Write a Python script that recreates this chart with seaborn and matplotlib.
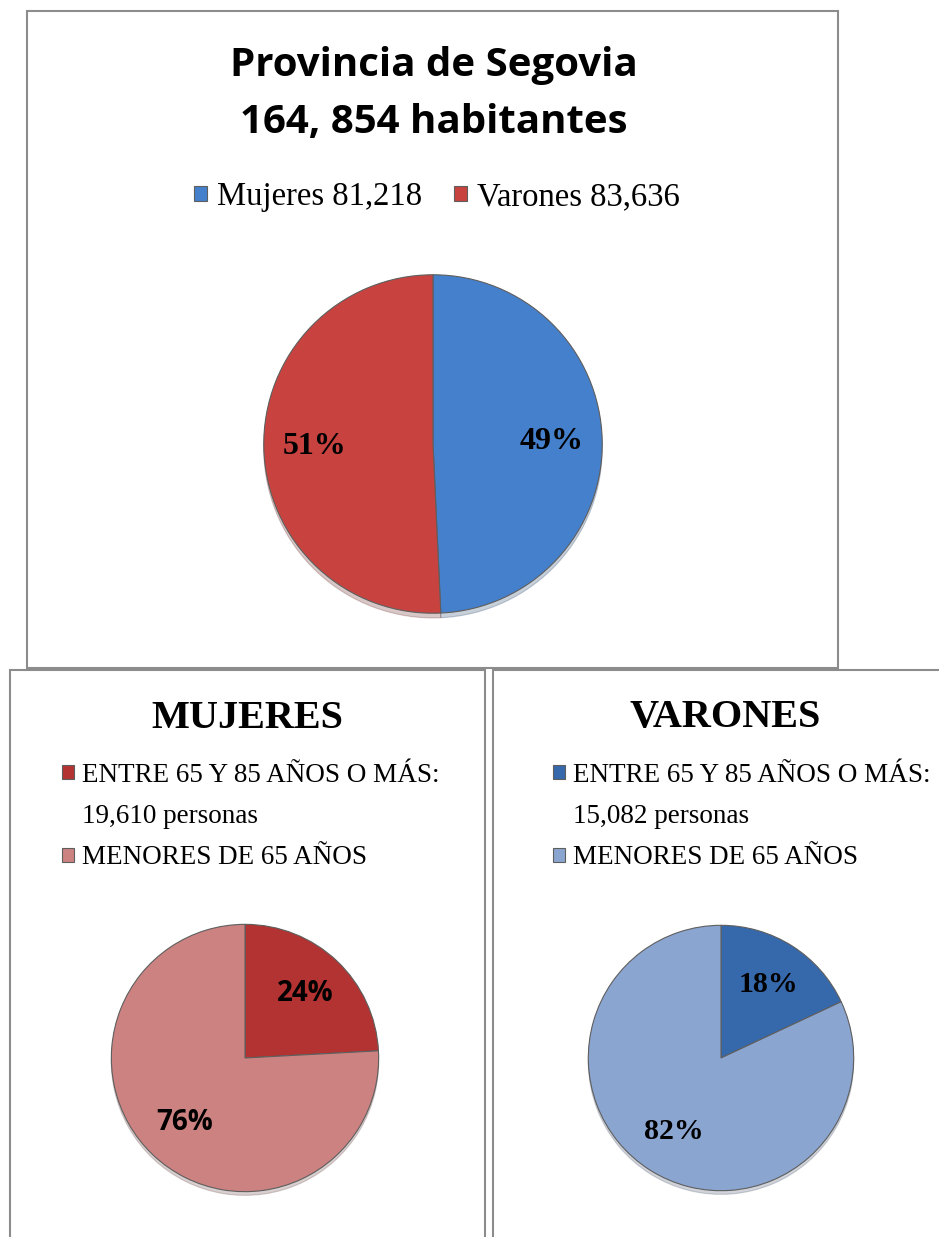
import matplotlib
matplotlib.use('Agg')
import matplotlib.pyplot as plt
from matplotlib.patches import Rectangle, Patch
import seaborn as sns

# datos
sexos = ['Mujeres', 'Varones']
habitantes = [81218, 83636]
colores_sexo = ['#4580cc', '#c8433f']

grupos = ['ENTRE 65 Y 85 AÑOS O MÁS:', 'MENORES DE 65 AÑOS']
mayores_65 = [19610, 15082]
colores_mujeres = ['#b23331', '#cc8280']
colores_varones = ['#3668ac', '#8ba5d1']

titulo = 'Provincia de Segovia\n164, 854 habitantes'
titulos_sexo = ['MUJERES', 'VARONES']

sns.set_theme(style='white')
plt.rcParams['font.family'] = ['Liberation Serif', 'DejaVu Sans']
plt.rcParams['text.color'] = 'black'

W, H = 939, 1237
fig = plt.figure(figsize=(W / 100, H / 100), dpi=100)


def fx(x):
    return x / W


def fy(y):
    return 1 - y / H


def caja(x0, y0, x1, y1):
    fig.add_artist(Rectangle((fx(x0), fy(y1)), (x1 - x0) / W, (y1 - y0) / H,
                             transform=fig.transFigure, fill=False,
                             edgecolor='#8c8c8c', linewidth=1.5))


def tarta(cx, cy, r, valores, colores, familia, tam, dist):
    ax = fig.add_axes([fx(cx - r), fy(cy + r), 2 * r / W, 2 * r / H])
    wedges, _, _ = ax.pie(valores, colors=colores, startangle=90, counterclock=False,
                          autopct='%1.0f%%', pctdistance=dist,
                          shadow=dict(ox=0, oy=-0.02, shade=0.5, alpha=0.25),
                          wedgeprops=dict(edgecolor='#5e5e5e', linewidth=0.8),
                          textprops=dict(fontsize=tam, fontweight='bold',
                                         family=familia, color='black'))
    ax.set_xlim(-1.04, 1.04)
    ax.set_ylim(-1.04, 1.04)
    ax.set_axis_off()
    return wedges


# marcos
caja(27, 11, 838, 668)
caja(10, 670, 485, 1250)
caja(493, 670, 950, 1250)

# panel superior
fig.text(fx(434), fy(94), titulo, ha='center', va='center', fontsize=29,
         fontweight='bold', family='Open Sans', linespacing=1.6)
w_top = tarta(433, 444, 176, habitantes, colores_sexo, 'Liberation Serif', 23, 0.7)
fig.legend(w_top, [f'{s} {v:,}' for s, v in zip(sexos, habitantes)],
           loc='center', bbox_to_anchor=(fx(437), fy(197)), ncol=2, frameon=False,
           fontsize=23.5, handlelength=0.38, handleheight=0.33, handletextpad=0.3,
           columnspacing=1.0, borderpad=0, borderaxespad=0)

# paneles inferiores
paneles = [
    (245, 1058, 139, colores_mujeres, 'Open Sans', 20, 62, 247),
    (721, 1058, 138, colores_varones, 'Liberation Serif', 21.5, 553, 725),
]
for i, (cx, cy, r, colores, familia, tam, xl, xt) in enumerate(paneles):
    valores = [mayores_65[i], habitantes[i] - mayores_65[i]]
    w = tarta(cx, cy, r, valores, colores, familia, tam, 0.66)
    fig.text(fx(xt), fy(718), titulos_sexo[i], ha='center', va='center',
             fontsize=29, fontweight='bold')
    handles = [w[0], Patch(facecolor='none', edgecolor='none'), w[1]]
    etiquetas = [grupos[0], f'{mayores_65[i]:,} personas', grupos[1]]
    fig.legend(handles, etiquetas, loc='upper left', bbox_to_anchor=(fx(xl), fy(763)),
               frameon=False, fontsize=19.5, handlelength=0.45, handleheight=0.4,
               handletextpad=0.3, labelspacing=0.6, borderpad=0, borderaxespad=0)

fig.savefig('out.png', dpi=100)
